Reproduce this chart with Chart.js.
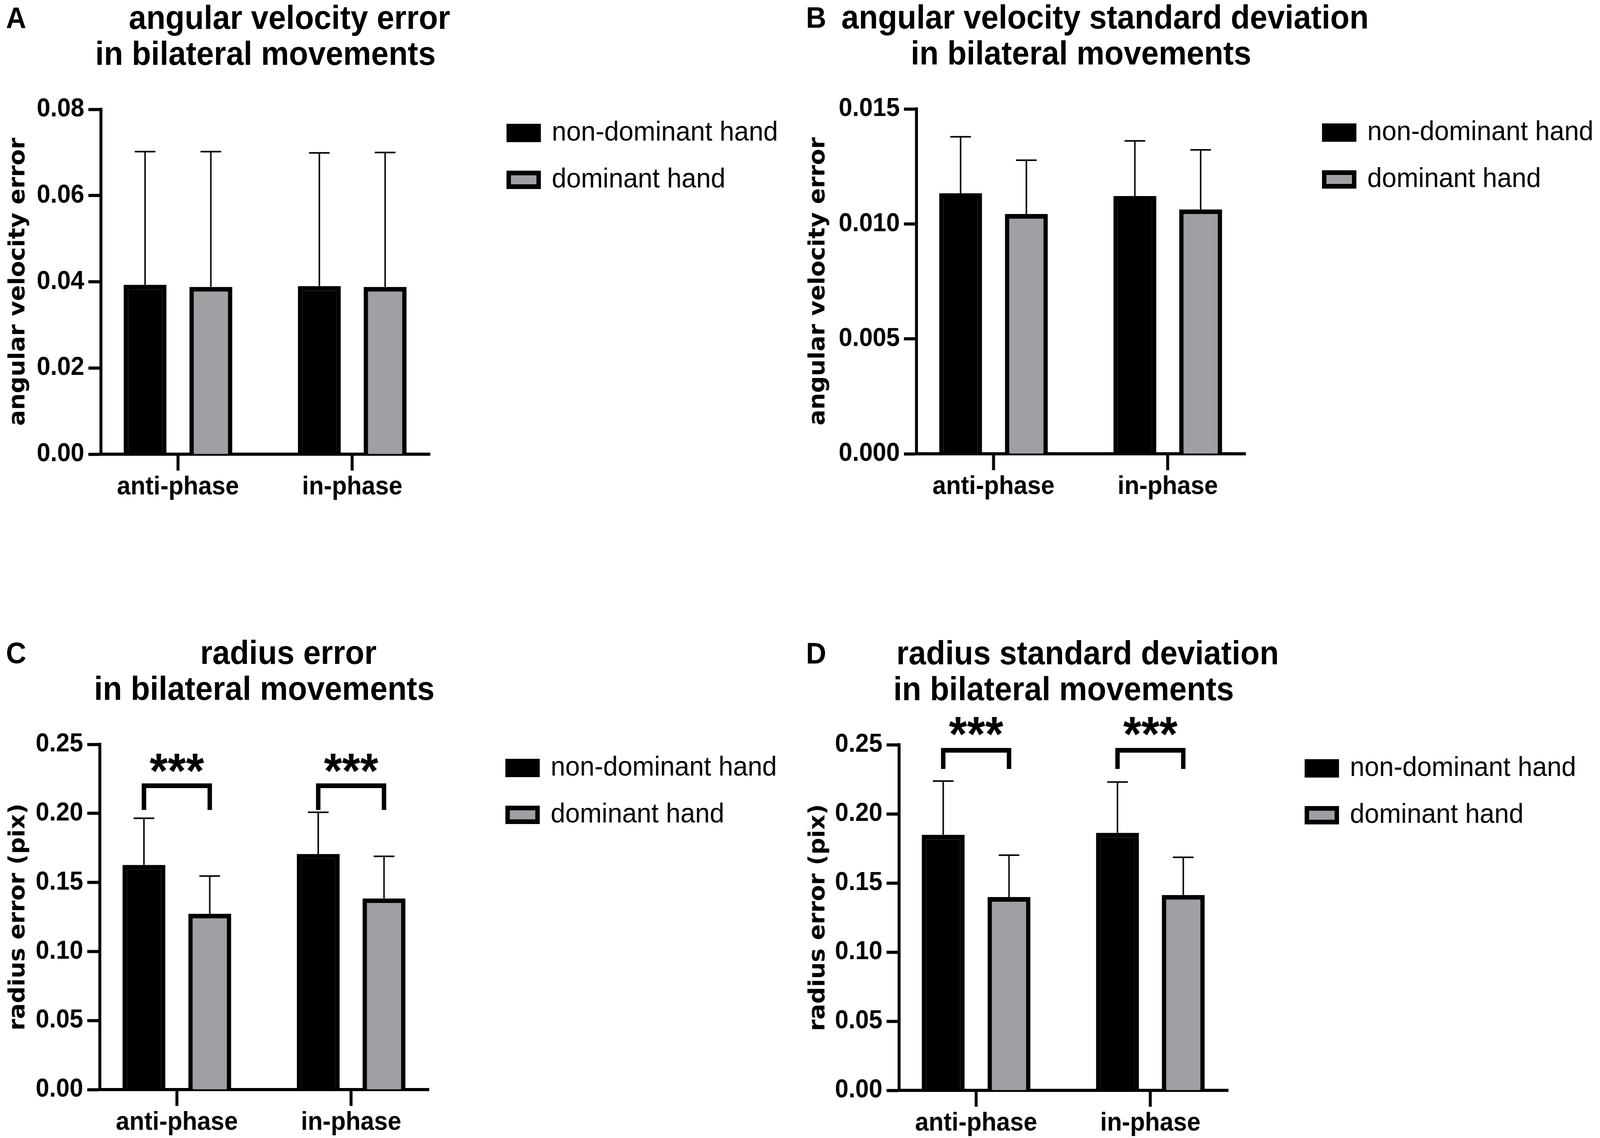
<!DOCTYPE html>
<html>
<head>
<meta charset="utf-8">
<title>bilateral movements</title>
<script src="https://cdn.jsdelivr.net/npm/chart.js@4.4.1/dist/chart.umd.min.js"></script>
<style>
  html, body { margin: 0; padding: 0; background: #fff; overflow: hidden; }
  #page { position: absolute; left: 0; top: 0; width: 4328px; height: 2914px; overflow: hidden;
          transform-origin: 0 0;
          font-family: "Liberation Sans", Arial, sans-serif; color: #000; }
  canvas { position: absolute; }
  .letter, .title { position: absolute; font-weight: bold; line-height: 1; white-space: nowrap; }
  .title { transform: translateX(-50%); }
</style>
</head>
<body>
<div id="page"></div>
<script>
// values
const categories = ["anti-phase", "in-phase"];
const seriesLabels = ["non-dominant hand", "dominant hand"];

// A - angular velocity error
const avErrNonDom = [0.0393, 0.0390];
const avErrNonDomSd = [0.0309, 0.0309];
const avErrDom = [0.0388, 0.0388];
const avErrDomSd = [0.0314, 0.0312];
const avErrTicks = [0, 0.02, 0.04, 0.06, 0.08];

// B - angular velocity standard deviation
const avSdNonDom = [0.01133, 0.01121];
const avSdNonDomSd = [0.00246, 0.00240];
const avSdDom = [0.01043, 0.01063];
const avSdDomSd = [0.00234, 0.00259];
const avSdTicks = [0, 0.005, 0.010, 0.015];

// C - radius error
const radErrNonDom = [0.1627, 0.1706];
const radErrNonDomSd = [0.0338, 0.0302];
const radErrDom = [0.1273, 0.1384];
const radErrDomSd = [0.0273, 0.0305];
const radErrBracketTop = [0.220, 0.220];
const radErrBracketLeg = [0.2025, 0.2025];
const radErrStarsAt = [0.2364, 0.2364];

// D - radius standard deviation
const radSdNonDom = [0.1849, 0.1863];
const radSdNonDomSd = [0.0388, 0.0367];
const radSdDom = [0.1398, 0.1413];
const radSdDomSd = [0.0303, 0.0273];
const radSdBracketTop = [0.246, 0.246];
const radSdBracketLeg = [0.2325, 0.2325];
const radSdStarsAt = [0.2633, 0.2633];

const radTicks = [0, 0.05, 0.10, 0.15, 0.20, 0.25];
const sigLabels = ["***", "***"];

const PAGE_W = 4328;
const PAGE_H = 2914;
const CANVAS_W = 2164;
const CANVAS_H = 1457;
const GREY = "#a09fa4";
const FONT = '"Liberation Sans", Arial, sans-serif';

Chart.defaults.font.family = FONT;
Chart.defaults.color = "#000";

const panels = [
  { letter: "A", ox: 0, oy: 0, plot: { l: 273, t: 280, r: 1163, b: 1163 },
    title: ["angular velocity error", "in bilateral movements"],
    yTitle: "angular velocity error", ticks: avErrTicks, dec: 2,
    means: [avErrNonDom, avErrDom], sds: [avErrNonDomSd, avErrDomSd], sig: null },
  { letter: "B", ox: 2164, oy: 0, plot: { l: 315, t: 279, r: 1205, b: 1162 },
    title: ["angular velocity standard deviation", "in bilateral movements"],
    yTitle: "angular velocity error", ticks: avSdTicks, dec: 3,
    means: [avSdNonDom, avSdDom], sds: [avSdNonDomSd, avSdDomSd], sig: null },
  { letter: "C", ox: 0, oy: 1457, plot: { l: 270, t: 449, r: 1160, b: 1333 },
    title: ["radius error", "in bilateral movements"],
    yTitle: "radius error (pix)", ticks: radTicks, dec: 2,
    means: [radErrNonDom, radErrDom], sds: [radErrNonDomSd, radErrDomSd],
    sig: { top: radErrBracketTop, leg: radErrBracketLeg, stars: radErrStarsAt, text: sigLabels } },
  { letter: "D", ox: 2164, oy: 1457, plot: { l: 268, t: 450, r: 1158, b: 1335 },
    title: ["radius standard deviation", "in bilateral movements"],
    yTitle: "radius error (pix)", ticks: radTicks, dec: 2,
    means: [radSdNonDom, radSdDom], sds: [radSdNonDomSd, radSdDomSd],
    sig: { top: radSdBracketTop, leg: radSdBracketLeg, stars: radSdStarsAt, text: sigLabels } }
];

// one-sided (upward) error bars with a cap
const errorBars = {
  id: "errorBars",
  afterDatasetsDraw(chart) {
    const { ctx } = chart;
    const y = chart.scales.y;
    ctx.save();
    ctx.strokeStyle = "#000";
    ctx.lineWidth = 4;
    chart.data.datasets.forEach((ds, di) => {
      chart.getDatasetMeta(di).data.forEach((bar, i) => {
        const v = ds.data[i].y;
        const yBar = y.getPixelForValue(v);
        const yTop = y.getPixelForValue(v + ds.errors[i]);
        ctx.beginPath();
        ctx.moveTo(bar.x, yBar);
        ctx.lineTo(bar.x, yTop);
        ctx.moveTo(bar.x - 28, yTop);
        ctx.lineTo(bar.x + 28, yTop);
        ctx.stroke();
      });
    });
    ctx.restore();
  }
};

// significance brackets between the two bars of a group
const sigBrackets = {
  id: "sigBrackets",
  afterDatasetsDraw(chart, args, opts) {
    if (!opts.top) return;
    const { ctx } = chart;
    const y = chart.scales.y;
    const left = chart.getDatasetMeta(0).data;
    const right = chart.getDatasetMeta(1).data;
    ctx.save();
    ctx.strokeStyle = "#000";
    ctx.fillStyle = "#000";
    ctx.lineWidth = 12;
    ctx.lineJoin = "miter";
    ctx.lineCap = "butt";
    ctx.font = "bold 126px " + FONT;
    ctx.textAlign = "center";
    ctx.textBaseline = "alphabetic";
    opts.top.forEach((top, i) => {
      const x1 = left[i].x, x2 = right[i].x;
      const yt = y.getPixelForValue(top);
      const yl = y.getPixelForValue(opts.leg[i]);
      ctx.beginPath();
      ctx.moveTo(x1, yl);
      ctx.lineTo(x1, yt);
      ctx.lineTo(x2, yt);
      ctx.lineTo(x2, yl);
      ctx.stroke();
      const m = ctx.measureText(opts.text[i]);
      const ys = y.getPixelForValue(opts.stars[i]);
      ctx.fillText(opts.text[i], (x1 + x2) / 2,
        ys + (m.actualBoundingBoxAscent - m.actualBoundingBoxDescent) / 2);
    });
    ctx.restore();
  }
};

// keep the legend to the right of the plot, level with its top
function legendPlacer(p) {
  return {
    id: "legendPlacer",
    afterInit(chart) {
      const lg = chart.legend;
      const fit = lg.fit;
      lg.fit = function () {
        fit.call(this);
        this.width = CANVAS_W - p.plot.r;
      };
    },
    afterLayout(chart) {
      const lg = chart.legend;
      const area = chart.chartArea;
      const dx = area.right + 164 - lg.left;
      const dy = area.top - 24 - lg.top;
      lg.left += dx; lg.right += dx;
      lg.top += dy; lg.bottom += dy;
    }
  };
}

const page = document.getElementById("page");
// the window may be smaller than the figure: stretch it to fill the shot
const SX = window.innerWidth / PAGE_W;
const SY = window.innerHeight / PAGE_H;
page.style.transform = "scale(" + SX + "," + SY + ")";

function addText(cls, text, x, baseline, size) {
  const d = document.createElement("div");
  d.className = cls;
  d.textContent = text;
  d.style.fontSize = size + "px";
  d.style.left = x + "px";
  d.style.top = (baseline - 0.8465 * size) + "px";
  page.appendChild(d);
}

function makeChart(p) {
  const canvas = document.createElement("canvas");
  canvas.width = CANVAS_W;
  canvas.height = CANVAS_H;
  canvas.style.left = p.ox + "px";
  canvas.style.top = p.oy + "px";
  canvas.style.width = CANVAS_W + "px";
  canvas.style.height = CANVAS_H + "px";
  page.appendChild(canvas);

  const plugins = [errorBars, legendPlacer(p)];
  if (p.sig) plugins.push(sigBrackets);

  new Chart(canvas, {
    type: "bar",
    data: {
      datasets: p.means.map((vals, k) => ({
        label: seriesLabels[k],
        data: categories.map((c, i) => ({ x: i, y: vals[i] })),
        errors: p.sds[k],
        backgroundColor: k === 0 ? "#000" : GREY,
        borderColor: "#000",
        borderWidth: 12,
        categoryPercentage: 0.755,
        barPercentage: 0.652
      }))
    },
    options: {
      responsive: false,
      animation: false,
      devicePixelRatio: 1,
      layout: { padding: { top: p.plot.t, left: 0, right: 0, bottom: 0 } },
      plugins: {
        legend: {
          position: "right",
          align: "start",
          labels: { boxWidth: 81, boxHeight: 35, padding: 49, color: "#000", font: { size: 71 } }
        },
        tooltip: { enabled: false },
        sigBrackets: p.sig || {}
      },
      scales: {
        x: {
          type: "linear",
          min: -0.442,
          max: 1.446,
          offset: false,
          afterBuildTicks: s => { s.ticks = categories.map((c, i) => ({ value: i })); },
          afterFit: s => { s.height = CANVAS_H - p.plot.b; },
          ticks: {
            callback: v => categories[v],
            font: { size: 66, weight: "bold" },
            color: "#000",
            padding: 3,
            autoSkip: false,
            maxRotation: 0
          },
          grid: { offset: false, drawOnChartArea: false, drawTicks: true, tickLength: 42, tickWidth: 8, tickColor: "#000" },
          border: { display: true, color: "#000", width: 8 }
        },
        y: {
          min: 0,
          max: p.ticks[p.ticks.length - 1],
          afterBuildTicks: s => { s.ticks = p.ticks.map(v => ({ value: v })); },
          afterFit: s => { s.width = p.plot.l; },
          ticks: {
            callback: v => Number(v).toFixed(p.dec),
            font: { size: 66, weight: "bold" },
            color: "#000",
            padding: 11
          },
          grid: { drawOnChartArea: false, drawTicks: true, tickLength: 34, tickWidth: 8, tickColor: "#000" },
          border: { display: true, color: "#000", width: 8 },
          title: {
            display: true,
            text: p.yTitle,
            color: "#000",
            font: { family: "DejaVu Sans", size: 60, weight: "bold" },
            padding: { top: 14, bottom: 0 }
          }
        }
      }
    },
    plugins
  });

  const cx = p.ox + p.plot.l + (p.plot.r - p.plot.l) / 2;
  addText("letter", p.letter, p.ox + 16, p.oy + p.plot.t - 208, 76);
  addText("title", p.title[0], cx + 65, p.oy + p.plot.t - 206, 85);
  addText("title", p.title[1], cx, p.oy + p.plot.t - 114, 85);
}

panels.forEach(makeChart);
</script>
</body>
</html>
